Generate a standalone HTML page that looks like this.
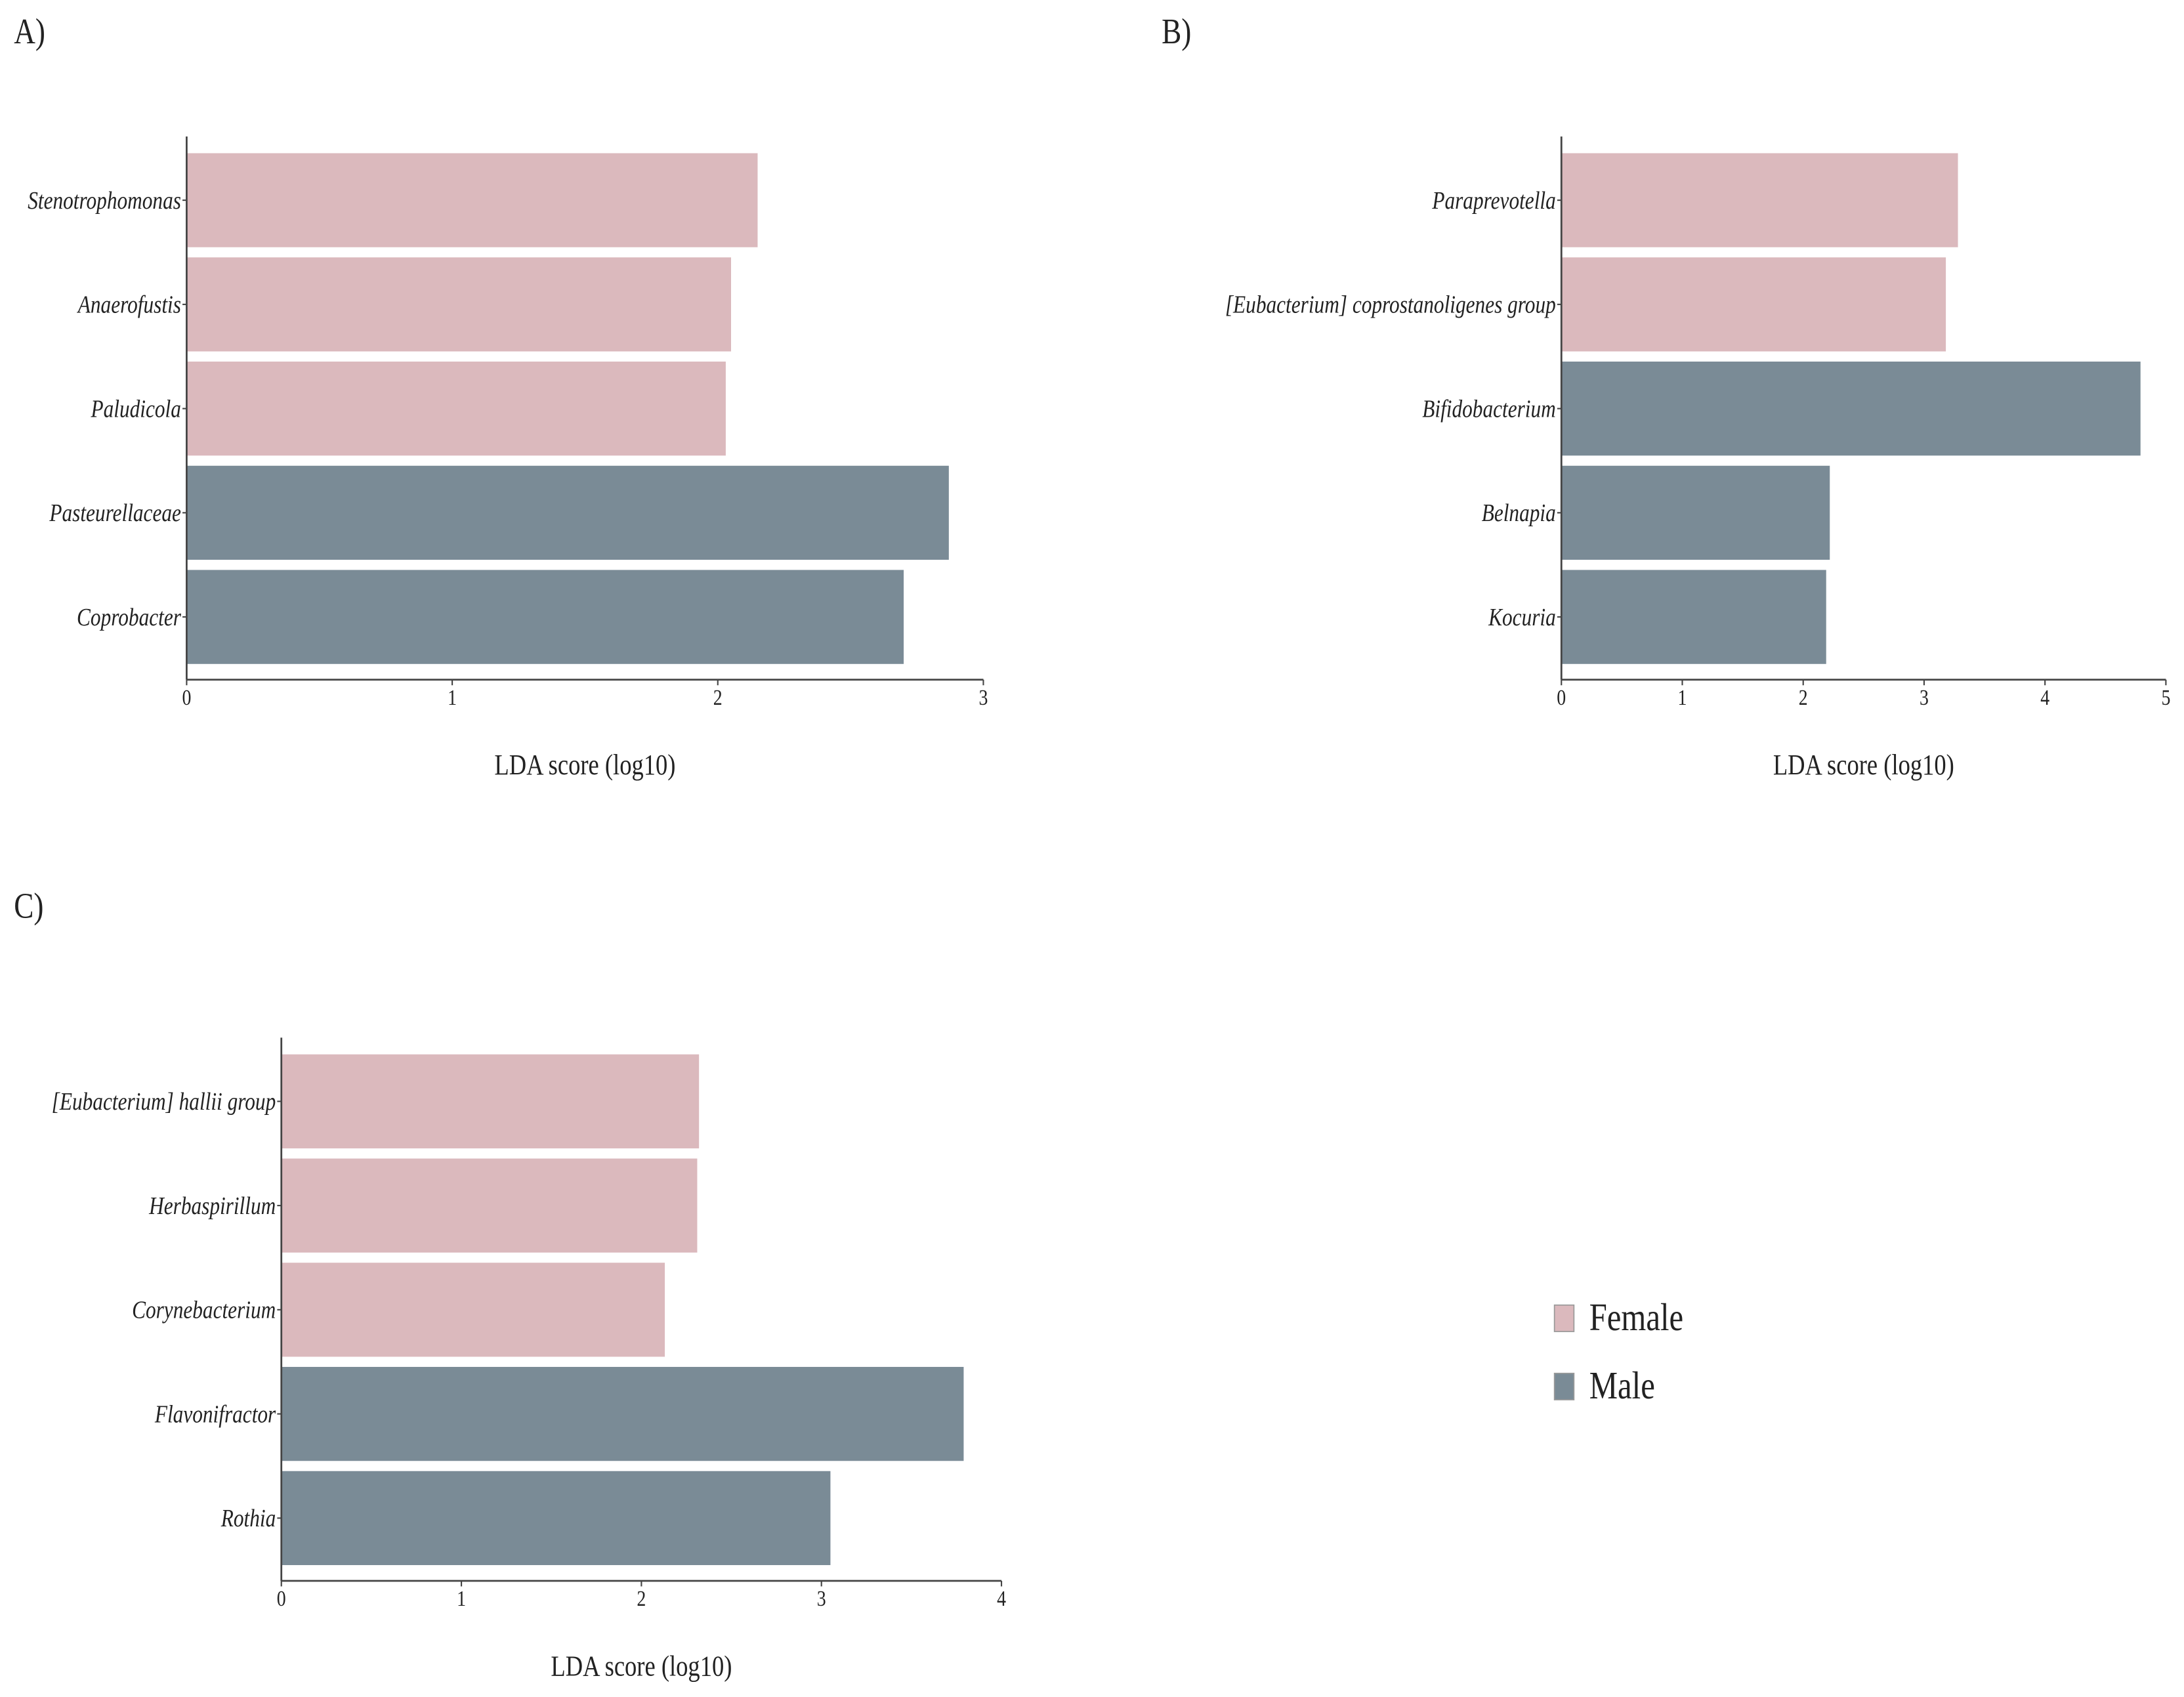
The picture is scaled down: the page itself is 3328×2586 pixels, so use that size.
<!DOCTYPE html>
<html><head><meta charset="utf-8"><style>
html,body{margin:0;padding:0;background:#fff;}
svg{display:block;}
text{font-family:"Liberation Serif",serif;fill:#222;}
</style></head><body>
<svg id="fig" xmlns="http://www.w3.org/2000/svg" width="3328" height="2586" viewBox="0 0 1568 1218.4" preserveAspectRatio="none"></svg>
<script>
const catsA = ["Stenotrophomonas","Anaerofustis","Paludicola","Pasteurellaceae","Coprobacter"];
const valsA = [2.15,2.05,2.03,2.87,2.70];
const grpA = ["F","F","F","M","M"];
const ticksA = [0,1,2,3];
const catsB = ["Paraprevotella","[Eubacterium] coprostanoligenes group","Bifidobacterium","Belnapia","Kocuria"];
const valsB = [3.28,3.18,4.79,2.22,2.19];
const grpB = ["F","F","M","M","M"];
const ticksB = [0,1,2,3,4,5];
const catsC = ["[Eubacterium] hallii group","Herbaspirillum","Corynebacterium","Flavonifractor","Rothia"];
const valsC = [2.32,2.31,2.13,3.79,3.05];
const grpC = ["F","F","F","M","M"];
const ticksC = [0,1,2,3,4];

const NS="http://www.w3.org/2000/svg";
const svg=document.getElementById('fig');
const COL={F:"#dbb9bd",M:"#7a8b96"};
function el(tag,attrs,parent){const e=document.createElementNS(NS,tag);for(const k in attrs)e.setAttribute(k,attrs[k]);(parent||svg).appendChild(e);return e;}
function txt(s,x,y,size,anchor,italic,parent){
  const t=el('text',{transform:`translate(${x},${y}) scale(0.82,1)`,'font-size':size,'text-anchor':anchor,'font-style':italic?'italic':'normal'},parent);
  t.textContent=s;return t;
}
function panel(id,letter,lx,ly,x0,x1,tmax,yTop,yAxisTop,cats,vals,grps,ticks){
  const g=el('g',{});
  
  
  const title=txt(letter,lx,ly,26,'start',false,g);
  
  
  const xs=v=>x0+(x1-x0)*v/tmax;
  const band=74.8, barH=67.5;
  const axisY=yTop+band*cats.length+4;
  cats.forEach((c,i)=>{
    const yc=yTop+band*i+barH/2;
    const r=el('rect',{x:xs(0),y:yTop+band*i,width:xs(vals[i])-xs(0),height:barH,fill:COL[grps[i]]},g);
    
    
    el('line',{x1:x0-3,x2:x0,y1:yc,y2:yc,stroke:'#444','stroke-width':1},g);
    const t=txt(c,x0-4,yc+6,18,'end',true,g);
    
    
  });
  const ya=el('line',{x1:x0,x2:x0,y1:yAxisTop,y2:axisY,stroke:'#444','stroke-width':1.3},g);
  
  
  const xa=el('line',{x1:x0,x2:x1,y1:axisY,y2:axisY,stroke:'#444','stroke-width':1.3},g);
  
  
  ticks.forEach(v=>{
    el('line',{x1:xs(v),x2:xs(v),y1:axisY,y2:axisY+4,stroke:'#444','stroke-width':1},g);
    const t=txt(String(v),xs(v),axisY+18,16,'middle',false,g);
    
    
  });
  const xt=txt('LDA score (log10)',(x0+x1)/2,axisY+68,21,'middle',false,g);
  
  
}
panel('a','A)',10,31,134,706,3,110,98,catsA,valsA,grpA,ticksA);
panel('b','B)',834,31,1121,1555,5,110,98,catsB,valsB,grpB,ticksB);
panel('c','C)',10,659,202,719,4,757,745,catsC,valsC,grpC,ticksC);

const lg=el('g',{});


[["Female","F",937],["Male","M",986]].forEach(([n,k,y])=>{
  const r=el('rect',{x:1116,y:y,width:14,height:19,fill:COL[k],stroke:'#999','stroke-width':0.8},lg);
  
  
  const t=txt(n,1141,y+18,28,'start',false,lg);
  
  
});
</script>
</body></html>
